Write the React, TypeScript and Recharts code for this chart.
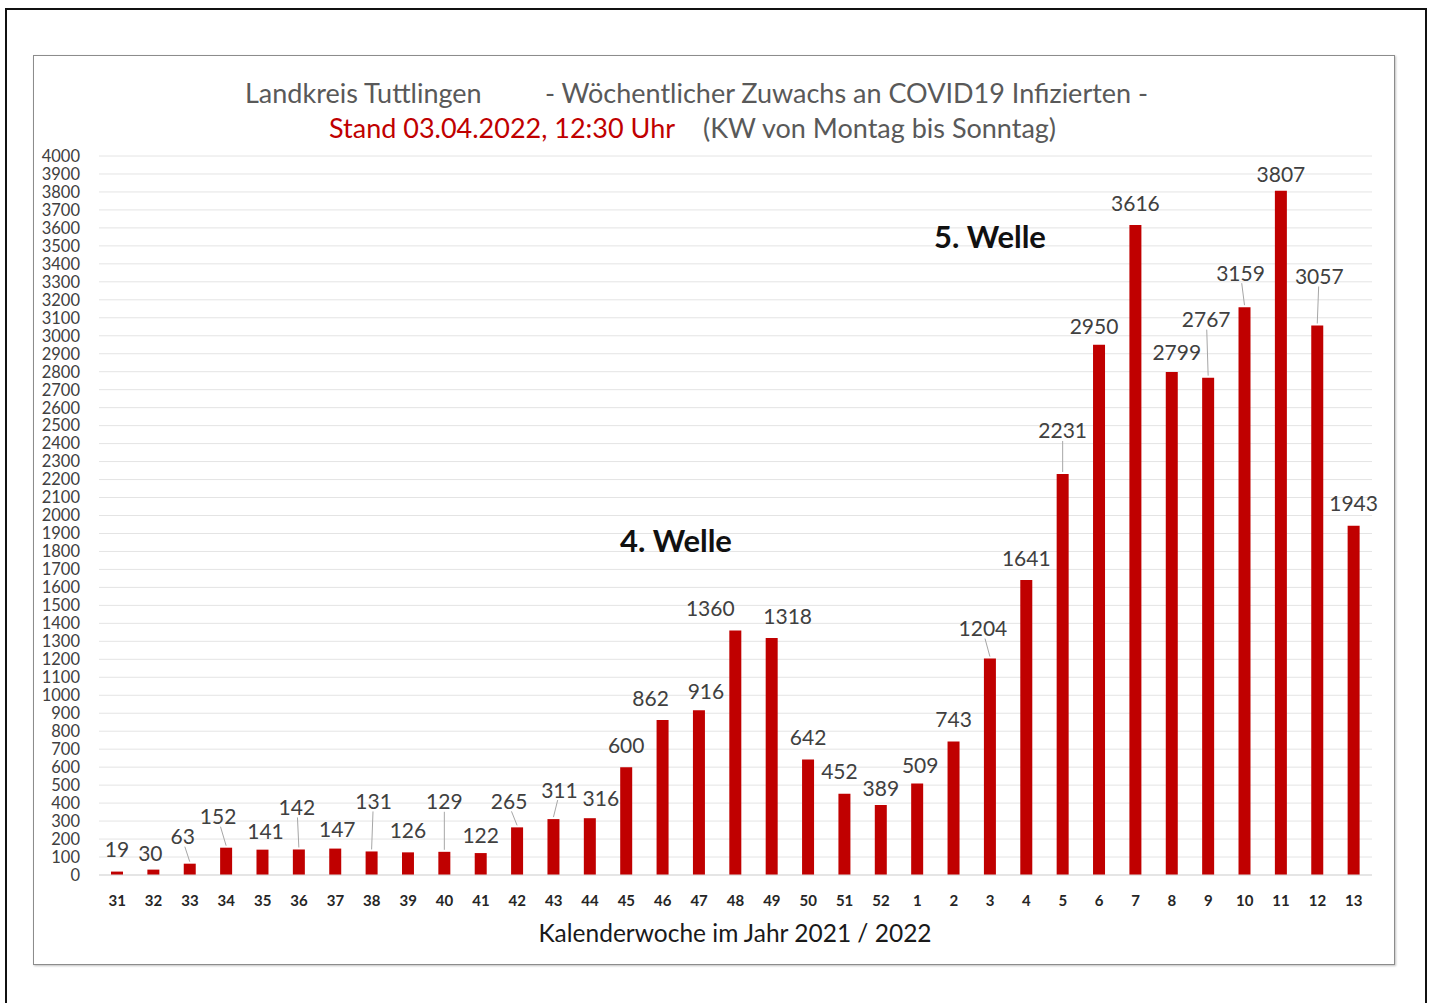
import React from "react"
import { Bar, BarChart, CartesianGrid, LabelList, XAxis, YAxis } from "recharts"

const weeks = [
  "31", "32", "33", "34", "35", "36", "37", "38", "39", "40", "41", "42",
  "43", "44", "45", "46", "47", "48", "49", "50", "51", "52", "1", "2",
  "3", "4", "5", "6", "7", "8", "9", "10", "11", "12", "13",
]

const cases = [
  19, 30, 63, 152, 141, 142, 147, 131, 126, 129, 122, 265,
  311, 316, 600, 862, 916, 1360, 1318, 642, 452, 389, 509, 743,
  1204, 1641, 2231, 2950, 3616, 2799, 2767, 3159, 3807, 3057, 1943,
]

const yTicks = Array.from({ length: 41 }, (_, i) => i * 100)

const data = weeks.map((kw, i) => ({ kw, wert: cases[i] }))

// label nudges (dx, dy, leader line) so labels sit like in the original
const labelNudge: Record<string, [number, number, boolean]> = {
  "32": [-3, 6, false],
  "33": [-7, -5, true],
  "34": [-8, -9, true],
  "35": [3, 4, false],
  "36": [-2, -20, true],
  "37": [2, 3, false],
  "38": [2, -28, true],
  "40": [0, -28, true],
  "41": [0, 4, false],
  "42": [-8, -4, true],
  "43": [6, -7, true],
  "44": [11, 2, false],
  "46": [-12, 0, false],
  "47": [7, 3, false],
  "48": [-25, 0, false],
  "49": [16, 0, false],
  "51": [-5, 0, false],
  "52": [0, 5, false],
  "1": [3, 4, false],
  "3": [-7, -8, true],
  "5": [0, -21, true],
  "6": [-5, 4, false],
  "8": [5, 3, false],
  "9": [-2, -36, true],
  "10": [-4, -12, true],
  "11": [0, 6, false],
  "12": [2, -27, true],
}

const font = "Lato, 'Open Sans', sans-serif"

function ValueLabel(props: any) {
  const { x, y, width, value, index } = props
  const kw = weeks[index]
  const [dx, dy, leader] = labelNudge[kw] || [0, 0, false]
  const bx = x + width / 2
  const cx = bx + dx
  const cy = y - 23 + dy
  return (
    <g>
      {leader && (
        <line
          x1={cx + (bx - cx) * 0.3}
          y1={cy + 11}
          x2={bx}
          y2={y - 2}
          stroke="#a6a6a6"
          strokeWidth={1}
        />
      )}
      <text
        x={cx}
        y={cy}
        textAnchor="middle"
        dominantBaseline="central"
        fontSize={21}
        fontFamily={font}
        fill="#404040"
      >
        {value}
      </text>
    </g>
  )
}

export default function App() {
  return (
    <div
      style={{
        position: "absolute",
        left: 0,
        top: 0,
        width: 1431,
        height: 1003,
        background: "#fff",
        overflow: "hidden",
        fontFamily: font,
      }}
    >
      <div
        style={{
          position: "absolute",
          left: 5,
          top: 8,
          width: 1418,
          height: 1010,
          borderTop: "2px solid #111",
          borderLeft: "2px solid #111",
          borderRight: "2px solid #111",
        }}
      />
      <div
        style={{
          position: "absolute",
          left: 33,
          top: 55,
          width: 1360,
          height: 908,
          border: "1.5px solid #8c8c8c",
          boxShadow: "1px 1px 2px rgba(0,0,0,0.25)",
        }}
      />
      <div
        style={{
          position: "absolute",
          left: 0,
          top: 76,
          width: 1431,
          fontSize: 27,
          color: "#595959",
          whiteSpace: "pre",
        }}
      >
        <span style={{ position: "absolute", left: 245 }}>Landkreis Tuttlingen</span>
        <span style={{ position: "absolute", left: 545 }}>
          - Wöchentlicher Zuwachs an COVID19 Infizierten -
        </span>
      </div>
      <div
        style={{
          position: "absolute",
          left: 0,
          top: 111,
          width: 1431,
          fontSize: 27,
          whiteSpace: "pre",
        }}
      >
        <span style={{ position: "absolute", left: 329, color: "#c00000" }}>
          Stand 03.04.2022, 12:30 Uhr
        </span>
        <span style={{ position: "absolute", left: 703, color: "#595959" }}>
          (KW von Montag bis Sonntag)
        </span>
      </div>
      <div style={{ position: "absolute", left: 0, top: 0 }}>
        <BarChart
          width={1431}
          height={1003}
          data={data}
          margin={{ top: 156, right: 59, bottom: 98, left: 39 }}
        >
          <CartesianGrid vertical={false} stroke="#e4e4e4" strokeWidth={1} />
          <XAxis
            dataKey="kw"
            height={30}
            tickLine={false}
            tickSize={0}
            tickMargin={20}
            axisLine={{ stroke: "#d9d9d9" }}
            interval={0}
            tick={{ fontSize: 15, fontWeight: 700, fill: "#262626", fontFamily: font }}
          />
          <YAxis
            width={60}
            domain={[0, 4000]}
            ticks={yTicks}
            interval={0}
            tickLine={false}
            tickSize={0}
            tickMargin={19}
            axisLine={false}
            tick={{ fontSize: 16.5, fill: "#404040", fontFamily: font }}
          />
          <Bar dataKey="wert" fill="#c00000" barSize={12} isAnimationActive={false}>
            <LabelList dataKey="wert" content={ValueLabel} />
          </Bar>
        </BarChart>
      </div>
      <div
        style={{
          position: "absolute",
          left: 0,
          top: 918,
          width: 1470,
          textAlign: "center",
          fontSize: 24.5,
          color: "#1a1a1a",
        }}
      >
        Kalenderwoche im Jahr 2021 / 2022
      </div>
      <div
        style={{
          position: "absolute",
          left: 576,
          top: 521,
          width: 200,
          textAlign: "center",
          fontSize: 31,
          fontWeight: 700,
          color: "#111",
        }}
      >
        4. Welle
      </div>
      <div
        style={{
          position: "absolute",
          left: 890,
          top: 217,
          width: 200,
          textAlign: "center",
          fontSize: 31,
          fontWeight: 700,
          color: "#111",
        }}
      >
        5. Welle
      </div>
    </div>
  )
}
